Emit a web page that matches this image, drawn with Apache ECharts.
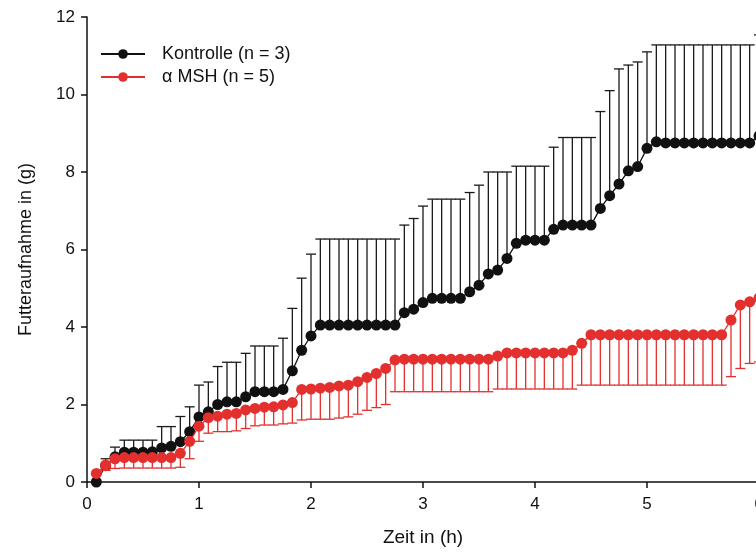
<!DOCTYPE html>
<html>
<head>
<meta charset="utf-8">
<script src="https://cdn.jsdelivr.net/npm/echarts@6/dist/echarts.min.js"></script>
<style>
  html, body { margin: 0; padding: 0; background: #ffffff; }
  #chart { width: 756px; height: 552px; }
</style>
</head>
<body>
<div id="chart"></div>
<script>
// Sampling times (minutes after injection), every 5 min up to 6 h
const minutes = [
  5, 10, 15, 20, 25, 30, 35, 40, 45, 50, 55, 60,
  65, 70, 75, 80, 85, 90, 95, 100, 105, 110, 115, 120,
  125, 130, 135, 140, 145, 150, 155, 160, 165, 170, 175, 180,
  185, 190, 195, 200, 205, 210, 215, 220, 225, 230, 235, 240,
  245, 250, 255, 260, 265, 270, 275, 280, 285, 290, 295, 300,
  305, 310, 315, 320, 325, 330, 335, 340, 345, 350, 355, 360
];

// Kontrolle: cumulative food intake (g), mean and mean + SD
const kontrolleMean = [
  0.00, 0.42, 0.65, 0.77, 0.77, 0.77, 0.78, 0.88, 0.92, 1.04, 1.30, 1.68,
  1.81, 2.00, 2.07, 2.07, 2.20, 2.33, 2.33, 2.33, 2.39, 2.87, 3.40, 3.77,
  4.05, 4.05, 4.05, 4.05, 4.05, 4.05, 4.05, 4.05, 4.05, 4.37, 4.46, 4.63,
  4.74, 4.74, 4.74, 4.74, 4.91, 5.08, 5.37, 5.47, 5.77, 6.16, 6.24, 6.24,
  6.24, 6.52, 6.63, 6.63, 6.63, 6.63, 7.06, 7.39, 7.69, 8.03, 8.14, 8.61,
  8.78, 8.75, 8.75, 8.75, 8.75, 8.75, 8.75, 8.75, 8.75, 8.75, 8.75, 8.93
];
const kontrolleUpper = [
  0.00, 0.60, 0.90, 1.08, 1.08, 1.08, 1.08, 1.43, 1.43, 1.69, 1.94, 2.50,
  2.58, 2.98, 3.09, 3.09, 3.32, 3.51, 3.51, 3.51, 3.71, 4.48, 5.26, 5.88,
  6.27, 6.27, 6.27, 6.27, 6.27, 6.27, 6.27, 6.27, 6.27, 6.63, 6.80, 7.12,
  7.30, 7.30, 7.30, 7.30, 7.47, 7.66, 8.00, 8.00, 8.00, 8.15, 8.15, 8.15,
  8.15, 8.64, 8.89, 8.89, 8.89, 8.89, 9.56, 10.10, 10.66, 10.76, 10.84, 11.10,
  11.28, 11.28, 11.28, 11.28, 11.28, 11.28, 11.28, 11.28, 11.28, 11.28, 11.28, 11.54
];

// alpha-MSH: cumulative food intake (g), mean and mean - SD
const mshMean = [
  0.22, 0.44, 0.60, 0.63, 0.63, 0.63, 0.63, 0.63, 0.63, 0.74, 1.05, 1.44,
  1.66, 1.70, 1.75, 1.77, 1.86, 1.90, 1.93, 1.94, 1.99, 2.05, 2.39, 2.40,
  2.42, 2.44, 2.48, 2.50, 2.59, 2.70, 2.80, 2.93, 3.15, 3.17, 3.17, 3.17,
  3.17, 3.17, 3.17, 3.17, 3.17, 3.17, 3.17, 3.25, 3.33, 3.33, 3.33, 3.33,
  3.33, 3.33, 3.33, 3.40, 3.58, 3.80, 3.80, 3.80, 3.80, 3.80, 3.80, 3.80,
  3.80, 3.80, 3.80, 3.80, 3.80, 3.80, 3.80, 3.80, 4.18, 4.57, 4.65, 4.75
];
const mshLower = [
  0.22, 0.30, 0.35, 0.36, 0.36, 0.36, 0.36, 0.36, 0.36, 0.38, 0.60, 1.05,
  1.26, 1.30, 1.30, 1.32, 1.38, 1.45, 1.47, 1.47, 1.50, 1.52, 1.60, 1.62,
  1.62, 1.62, 1.65, 1.68, 1.75, 1.85, 1.92, 2.00, 2.33, 2.33, 2.33, 2.33,
  2.33, 2.33, 2.33, 2.33, 2.33, 2.33, 2.33, 2.40, 2.40, 2.40, 2.40, 2.40,
  2.40, 2.40, 2.40, 2.40, 2.50, 2.50, 2.50, 2.50, 2.50, 2.50, 2.50, 2.50,
  2.50, 2.50, 2.50, 2.50, 2.50, 2.50, 2.50, 2.50, 2.72, 2.93, 3.06, 3.10
];

const xTicks = [0, 1, 2, 3, 4, 5, 6];
const yTicks = [0, 2, 4, 6, 8, 10, 12];
const seriesNames = ['Kontrolle (n = 3)', 'α MSH (n = 5)'];

const BLACK = '#111111';
const RED = '#e3302e';
const FONT = '"Liberation Sans", Arial, Helvetica, sans-serif';

const hours = minutes.map(m => m / 60);
const pairs = (ys) => hours.map((h, i) => [h, ys[i]]);
const barData = (means, bounds) => hours.map((h, i) => [h, means[i], bounds[i]]);

// Error bar: vertical stem from the mean to the bound, with a short cap
function errorBar(color) {
  return function (params, api) {
    const m = api.value(1), b = api.value(2);
    if (Math.abs(b - m) < 1e-9) return null;
    const p0 = api.coord([api.value(0), m]);
    const p1 = api.coord([api.value(0), b]);
    const hw = 5;
    const style = { stroke: color, lineWidth: 1.3 };
    return {
      type: 'group',
      children: [
        { type: 'line', shape: { x1: p0[0], y1: p0[1], x2: p1[0], y2: p1[1] }, style: style },
        { type: 'line', shape: { x1: p1[0] - hw, y1: p1[1], x2: p1[0] + hw, y2: p1[1] }, style: style }
      ]
    };
  };
}

const chart = echarts.init(document.getElementById('chart'), null, { renderer: 'canvas' });

chart.setOption({
  animation: false,
  backgroundColor: '#ffffff',
  textStyle: { fontFamily: FONT },
  grid: { left: 87, right: -3, top: 17, bottom: 70, containLabel: false, outerBoundsMode: 'none' },
  legend: {
    data: seriesNames,
    orient: 'vertical',
    left: 95,
    top: 40,
    itemWidth: 44,
    itemHeight: 12,
    itemGap: 5,
    textStyle: { fontFamily: FONT, fontSize: 18, color: '#111', padding: [0, 0, 0, 12] }
  },
  xAxis: {
    type: 'value',
    min: xTicks[0],
    max: xTicks[xTicks.length - 1],
    interval: 1,
    name: 'Zeit in (h)',
    nameLocation: 'middle',
    nameGap: 46,
    nameTextStyle: { fontFamily: FONT, fontSize: 19, color: '#111' },
    axisLine: { lineStyle: { color: BLACK, width: 1.5 } },
    axisTick: { length: 6, lineStyle: { color: BLACK, width: 1.5 } },
    axisLabel: { margin: 14, fontSize: 17, color: '#111', fontFamily: FONT },
    splitLine: { show: false }
  },
  yAxis: {
    type: 'value',
    min: yTicks[0],
    max: yTicks[yTicks.length - 1],
    interval: 2,
    name: 'Futteraufnahme in (g)',
    nameLocation: 'middle',
    nameGap: 52,
    nameTextStyle: { fontFamily: FONT, fontSize: 18, color: '#111' },
    axisLine: { show: true, lineStyle: { color: BLACK, width: 1.5 } },
    axisTick: { show: true, length: 6, lineStyle: { color: BLACK, width: 1.5 } },
    axisLabel: { margin: 12, fontSize: 17, color: '#111', fontFamily: FONT },
    splitLine: { show: false }
  },
  series: [
    {
      type: 'custom',
      renderItem: errorBar('#1a1a1a'),
      data: barData(kontrolleMean, kontrolleUpper),
      encode: { x: 0, y: [1, 2] },
      silent: true,
      clip: false,
      z: 1
    },
    {
      name: seriesNames[0],
      type: 'line',
      data: pairs(kontrolleMean),
      symbol: 'circle',
      symbolSize: 11,
      showAllSymbol: true,
      itemStyle: { color: BLACK },
      lineStyle: { color: BLACK, width: 1.3 },
      z: 2
    },
    {
      type: 'custom',
      renderItem: errorBar(RED),
      data: barData(mshMean, mshLower),
      encode: { x: 0, y: [1, 2] },
      silent: true,
      clip: false,
      z: 3
    },
    {
      name: seriesNames[1],
      type: 'line',
      data: pairs(mshMean),
      symbol: 'circle',
      symbolSize: 11,
      showAllSymbol: true,
      itemStyle: { color: RED },
      lineStyle: { color: RED, width: 1.3 },
      z: 4
    }
  ]
});
</script>
</body>
</html>
